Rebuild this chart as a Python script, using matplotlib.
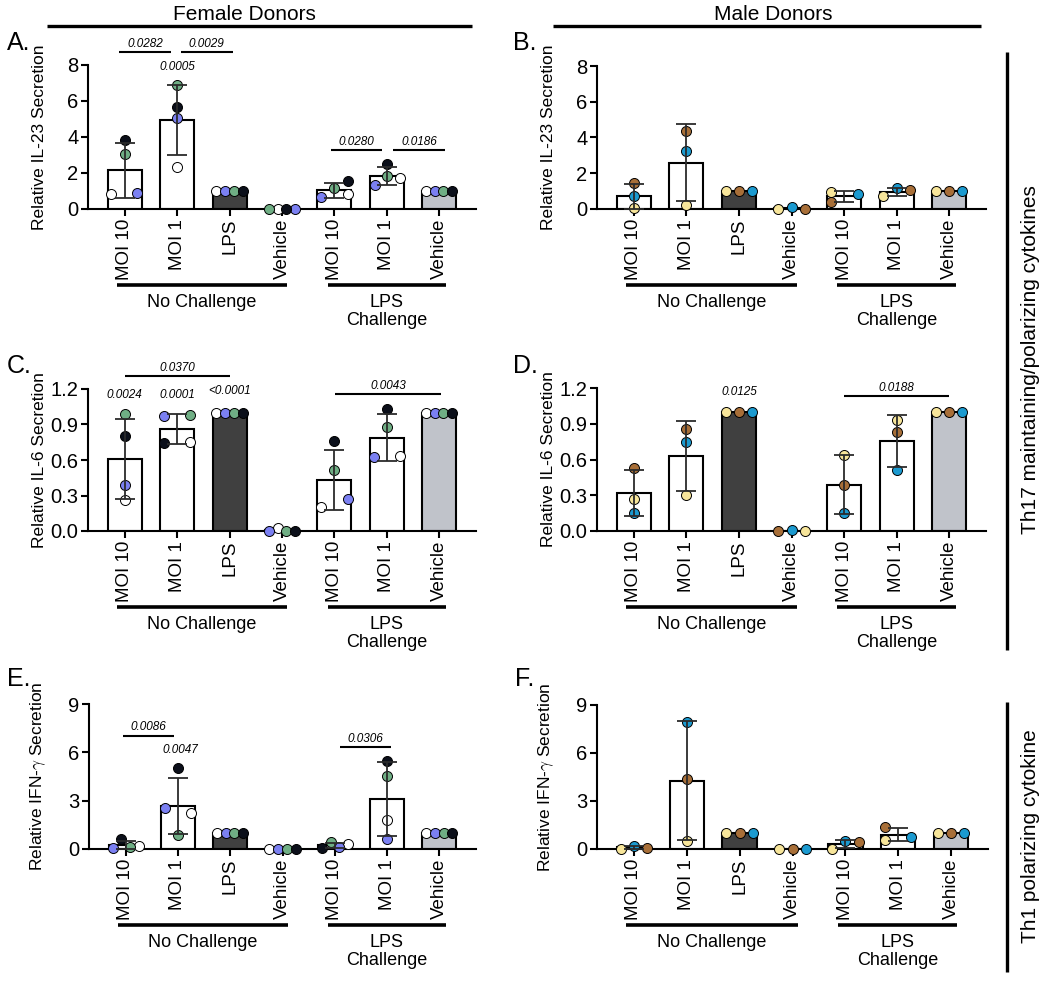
import matplotlib
matplotlib.use('Agg')
import matplotlib.pyplot as plt
from matplotlib.lines import Line2D
from matplotlib.transforms import offset_copy

plt.rcParams['font.family'] = ['Liberation Sans', 'DejaVu Sans']
plt.rcParams['mathtext.fontset'] = 'cm'

# ---- data ----
groups = ['MOI 10', 'MOI 1', 'LPS', 'Vehicle', 'MOI 10', 'MOI 1', 'Vehicle']
bar_colors = ['white', 'white', '#404040', 'white', 'white', 'white', '#c0c3ca']

female_colors = ['#ffffff', '#7b80f2', '#6fae84', '#0b0f1a']   # donors: white, blue, green, black
male_colors = ['#f7e59a', '#a86f38', '#1b9ad0']                # donors: yellow, brown, blue

# IL-23, female (A)
il23_f_mean = [2.14, 4.96, 1.0, 0.0, 1.04, 1.85, 1.0]
il23_f_sd = [1.52, 1.94, 0, 0, 0.41, 0.49, 0]
il23_f_pts = [[0.81, 0.91, 3.04, 3.83], [2.31, 5.04, 6.89, 5.69], [1, 1, 1, 1], [0.02, 0, 0, 0],
              [0.82, 0.65, 1.15, 1.56], [1.74, 1.33, 1.85, 2.5], [1, 1, 1, 1]]
# IL-23, male (B)
il23_m_mean = [0.7, 2.6, 1.0, 0.05, 0.7, 0.95, 1.0]
il23_m_sd = [0.72, 2.16, 0, 0, 0.29, 0.24, 0]
il23_m_pts = [[0.04, 1.43, 0.74], [0.2, 4.36, 3.27], [1, 1, 1], [0.02, 0.02, 0.12],
              [0.95, 0.37, 0.83], [0.7, 1.06, 1.2], [1, 1, 1]]
# IL-6, female (C)
il6_f_mean = [0.61, 0.86, 1.0, 0.005, 0.43, 0.79, 1.0]
il6_f_sd = [0.34, 0.125, 0, 0, 0.255, 0.2, 0]
il6_f_pts = [[0.26, 0.39, 0.99, 0.80], [0.75, 0.975, 0.98, 0.74], [1, 1, 1, 1], [0.025, 0, 0, 0],
             [0.2, 0.27, 0.515, 0.76], [0.63, 0.625, 0.876, 1.03], [1, 1, 1, 1]]
# IL-6, male (D)
il6_m_mean = [0.32, 0.63, 1.0, 0.0, 0.39, 0.755, 1.0]
il6_m_sd = [0.195, 0.295, 0, 0, 0.245, 0.22, 0]
il6_m_pts = [[0.27, 0.53, 0.15], [0.3, 0.855, 0.75], [1, 1, 1], [0, 0, 0.005],
             [0.64, 0.39, 0.152], [0.93, 0.83, 0.51], [1, 1, 1]]
# IFN-gamma, female (E)
ifng_f_mean = [0.24, 2.65, 1.0, 0.0, 0.23, 3.1, 1.0]
ifng_f_sd = [0.26, 1.73, 0, 0, 0.14, 2.28, 0]
ifng_f_pts = [[0.19, 0.04, 0.12, 0.62], [2.22, 2.57, 0.87, 5.01], [1, 1, 1, 1], [0, 0, 0, 0],
              [0.29, 0.14, 0.41, 0.08], [1.8, 0.62, 4.55, 5.47], [1, 1, 1, 1]]
# IFN-gamma, male (F)
ifng_m_mean = [0.1, 4.28, 1.0, 0.0, 0.3, 0.89, 1.0]
ifng_m_sd = [0.1, 3.71, 0, 0, 0.26, 0.41, 0]
ifng_m_pts = [[0.0, 0.08, 0.2], [0.52, 4.39, 7.92], [1, 1, 1], [0, 0, 0],
              [0.0, 0.44, 0.48], [0.58, 1.35, 0.75], [1, 1, 1]]

# significance: (from, to, y, label) and single labels (x, y, label)
il23_f_comps = [(-0.1, 0.88, 8.74, '0.0282'), (1.07, 2.06, 8.74, '0.0029'),
                (3.94, 4.91, 3.3, '0.0280'), (5.12, 6.11, 3.3, '0.0186')]
il23_f_single = [(1, 7.9, '0.0005')]
il6_f_comps = [(0, 2.0, 1.31, '0.0370'), (4.02, 6.03, 1.155, '0.0043')]
il6_f_single = [(0, 1.15, '0.0024'), (1, 1.15, '0.0001'), (2, 1.18, '<0.0001')]
il6_m_comps = [(4.0, 6.0, 1.136, '0.0188')]
il6_m_single = [(2, 1.165, '0.0125')]
ifng_f_comps = [(-0.05, 0.93, 7.04, '0.0086'), (4.1, 5.08, 6.34, '0.0306')]
ifng_f_single = [(1.05, 6.15, '0.0047')]

# ---- horizontal scatter of the dots within a bar (layout only) ----
F4 = [-0.25, -0.08, 0.08, 0.25]
M3 = [-0.25, 0, 0.25]
Z4 = [0, 0, 0, 0]
Z3 = [0, 0, 0]
off_a = [[-0.26, 0.24, 0, 0], Z4, F4, [-0.08, 0.25, -0.25, 0.08], [0.25, -0.25, 0, 0.25], [0.25, -0.23, 0, 0], F4]
off_b = [Z3, Z3, M3, [-0.25, 0.25, 0], [-0.24, -0.24, 0.26], [-0.25, 0.25, 0], M3]
off_c = [Z4, [0.25, -0.25, 0.25, -0.25], F4, [-0.08, -0.25, 0.08, 0.25], [-0.25, 0.25, 0, 0], [0.25, -0.24, 0, 0], F4]
off_d = [Z3, Z3, M3, [0.25, -0.25, 0], Z3, Z3, M3]
off_e = [[0.25, -0.25, 0.08, -0.08], [0.25, -0.25, 0, 0], F4, F4, [0.25, 0.08, -0.08, -0.25], Z4, F4]
off_f = [[-0.25, 0.25, 0], Z3, M3, M3, [-0.25, 0.25, 0], [-0.25, -0.25, 0.25], M3]

W, H = 1050, 981
fig = plt.figure(figsize=(W / 100, H / 100), dpi=100)


def px_axes(x0, x1, ytop, ybot):
    return fig.add_axes([x0 / W, 1 - ybot / H, (x1 - x0) / W, (ybot - ytop) / H])


def draw_panel(ax, means, sds, pts, offs, colors, ylim, yticks, fmt, ylabel, comps=(), singles=()):
    x = list(range(len(groups)))
    ax.bar(x, means, width=0.65, color=bar_colors, edgecolor='black', linewidth=1.5, zorder=1)
    for i in x:
        for v, dx, c in zip(pts[i], offs[i], colors):
            ax.scatter(i + dx, v, s=52, color=c, edgecolor='black', linewidth=0.7, zorder=3, clip_on=False)
    for i in x:
        if sds[i] > 0:
            ax.errorbar(i, means[i], yerr=sds[i], fmt='none', ecolor='#2b2b2b', elinewidth=1.3,
                        capsize=7, capthick=1.3, zorder=4, clip_on=False)
    ax.set_xlim(-0.7, 6.7)
    ax.set_ylim(*ylim)
    ax.set_yticks(yticks)
    ax.set_yticklabels([fmt.format(t) for t in yticks])
    ax.set_xticks(x)
    ax.set_xticklabels(groups, rotation=90, va='top')
    for s in ['top', 'right']:
        ax.spines[s].set_visible(False)
    for s in ['left', 'bottom']:
        ax.spines[s].set_linewidth(1.5)
    ax.tick_params(direction='out', length=5, width=1.5, pad=2)
    ax.tick_params(axis='x', labelsize=13.5)
    ax.tick_params(axis='y', labelsize=14.5)
    ax.set_ylabel(ylabel, fontsize=12.5)
    ax.yaxis.set_label_coords(-0.106, 0.5)

    for x0, x1, y, lab in comps:
        ax.plot([x0, x1], [y, y], color='black', lw=1.5, clip_on=False, solid_capstyle='butt')
        ax.annotate(lab, ((x0 + x1) / 2, y), xytext=(0, 1.5), textcoords='offset points',
                    ha='center', va='bottom', fontsize=8.5, style='italic', annotation_clip=False)
    for xs, y, lab in singles:
        ax.text(xs, y, lab, ha='center', va='center', fontsize=8.5, style='italic', clip_on=False)

    # treatment group bars under the tick labels
    line_tr = offset_copy(ax.get_xaxis_transform(), fig=fig, y=-76 * 0.72, units='points')
    text_tr = offset_copy(ax.get_xaxis_transform(), fig=fig, y=-85 * 0.72, units='points')
    for x0, x1, lab in [(-0.15, 3.1, 'No Challenge'), (3.87, 6.12, 'LPS\nChallenge')]:
        ax.plot([x0, x1], [0, 0], transform=line_tr, color='black', lw=2.6, clip_on=False,
                solid_capstyle='butt')
        ax.text((x0 + x1) / 2, 0, lab, transform=text_tr, ha='center', va='top',
                fontsize=13, linespacing=1.1)


ax_a = px_axes(88, 476, 65, 209)
ax_b = px_axes(597, 986, 66, 209)
ax_c = px_axes(88, 476, 389, 531)
ax_d = px_axes(597, 986, 388, 531)
ax_e = px_axes(89, 476, 704, 849)
ax_f = px_axes(597, 988, 705, 849)

draw_panel(ax_a, il23_f_mean, il23_f_sd, il23_f_pts, off_a, female_colors, (0, 8), [0, 2, 4, 6, 8], '{:.0f}',
           'Relative IL-23 Secretion', il23_f_comps, il23_f_single)
draw_panel(ax_b, il23_m_mean, il23_m_sd, il23_m_pts, off_b, male_colors, (0, 8), [0, 2, 4, 6, 8], '{:.0f}',
           'Relative IL-23 Secretion')
draw_panel(ax_c, il6_f_mean, il6_f_sd, il6_f_pts, off_c, female_colors, (0, 1.2), [0, 0.3, 0.6, 0.9, 1.2],
           '{:.1f}', 'Relative IL-6 Secretion', il6_f_comps, il6_f_single)
draw_panel(ax_d, il6_m_mean, il6_m_sd, il6_m_pts, off_d, male_colors, (0, 1.2), [0, 0.3, 0.6, 0.9, 1.2],
           '{:.1f}', 'Relative IL-6 Secretion', il6_m_comps, il6_m_single)
draw_panel(ax_e, ifng_f_mean, ifng_f_sd, ifng_f_pts, off_e, female_colors, (0, 9), [0, 3, 6, 9], '{:.0f}',
           r'Relative IFN-$\gamma$ Secretion', ifng_f_comps, ifng_f_single)
draw_panel(ax_f, ifng_m_mean, ifng_m_sd, ifng_m_pts, off_f, male_colors, (0, 9), [0, 3, 6, 9], '{:.0f}',
           r'Relative IFN-$\gamma$ Secretion')


def ftext(px, py, s, **kw):
    fig.text(px / W, 1 - py / H, s, **kw)


def fline(xs, ys, lw=2.4):
    fig.add_artist(Line2D([x / W for x in xs], [1 - y / H for y in ys], color='black', lw=lw,
                          transform=fig.transFigure, solid_capstyle='butt'))


# column headers
ftext(244, 15, 'Female Donors', ha='center', va='center', fontsize=15)
ftext(773, 15, 'Male Donors', ha='center', va='center', fontsize=15)
fline([47, 472], [26, 26])
fline([553, 981], [26, 26])

# row labels on the right
fline([1007, 1007], [52, 650])
fline([1007, 1007], [702, 972])
ftext(1030, 360, 'Th17 maintaining/polarizing cytokines', ha='center', va='center', rotation=90, fontsize=15)
ftext(1030, 836, 'Th1 polarizing cytokine', ha='center', va='center', rotation=90, fontsize=15)

# panel letters
for lab, px, py in [('A.', 7, 43), ('B.', 513, 43), ('C.', 7, 366), ('D.', 513, 366), ('E.', 7, 679), ('F.', 515, 679)]:
    ftext(px, py, lab, ha='left', va='center', fontsize=18)

fig.savefig('out.png', dpi=100)
